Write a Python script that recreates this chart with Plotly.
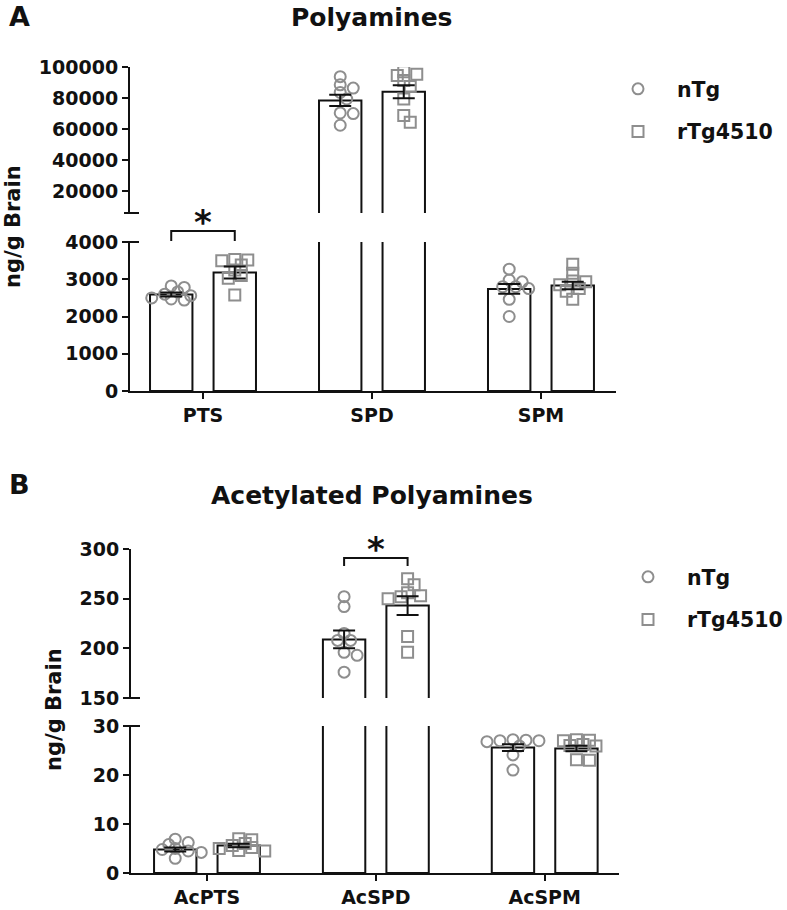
import plotly.graph_objects as go

W, H = 787, 910

groups = ["nTg", "rTg4510"]

# ---------------- Panel A data ----------------
a_categories = ["PTS", "SPD", "SPM"]
a_ntg_points = [
    [2820, 2780, 2660, 2600, 2560, 2500, 2470, 2440],
    [93800, 88500, 86400, 83600, 79400, 70400, 70000, 62500],
    [3270, 2980, 2930, 2800, 2800, 2750, 2460, 2000],
]
a_rtg_points = [
    [3530, 3520, 3500, 3380, 3250, 3100, 3030, 2580],
    [97000, 95300, 94500, 91300, 87400, 79400, 68700, 64400],
    [3400, 3160, 2950, 2930, 2850, 2750, 2680, 2460],
]
a_ntg_mean = [2590, 78500, 2740]
a_ntg_sem = [55, 3600, 130]
a_rtg_mean = [3180, 84000, 2830]
a_rtg_sem = [160, 4200, 100]
a_lower_ticks = [0, 1000, 2000, 3000, 4000]
a_upper_ticks = [20000, 40000, 60000, 80000, 100000]

# ---------------- Panel B data ----------------
b_categories = ["AcPTS", "AcSPD", "AcSPM"]
b_ntg_points = [
    [6.9, 6.2, 5.8, 5.0, 4.8, 4.5, 4.2, 3.0],
    [252, 242, 215, 208, 208, 196, 193, 176],
    [27.2, 27.1, 27.0, 27.0, 26.8, 25.9, 24.1, 21.0],
]
b_rtg_points = [
    [7.0, 6.8, 6.0, 5.6, 5.2, 5.0, 4.6, 4.5],
    [270, 264, 256, 253, 252, 250, 212, 196],
    [27.2, 27.1, 27.0, 26.2, 26.0, 25.9, 23.1, 23.0],
]
b_ntg_mean = [4.8, 209, 25.6]
b_ntg_sem = [0.4, 9, 0.7]
b_rtg_mean = [5.6, 243, 25.4]
b_rtg_sem = [0.35, 9.5, 0.55]
b_lower_ticks = [0, 10, 20, 30]
b_upper_ticks = [150, 200, 250, 300]

# ---------------- styling / layout helpers ----------------
FONT = "DejaVu Sans"
GRAY = "#8e8e8e"
BLACK = "#111111"
SYMBOLS = ["circle-open", "square-open"]
OFF = 0.188
BW = 0.251


def px_x(p):
    return p / W


def px_y(p):
    return 1 - p / H


panels = [
    dict(
        key="A", cats=a_categories,
        pts=[a_ntg_points, a_rtg_points], mean=[a_ntg_mean, a_rtg_mean], sem=[a_ntg_sem, a_rtg_sem],
        xa="x", ya_lo="y", ya_hi="y2",
        xdom=[px_x(130), px_x(616)], xrng=[-0.432, 2.444],
        lodom=[px_y(391), px_y(242)], lorng=[0, 4000], loticks=a_lower_ticks,
        hidom=[px_y(213), px_y(67)], hirng=[6000, 100000], hiticks=a_upper_ticks,
        title="Polyamines", title_y=17, letter_y=16,
        ytitle_x=13, ytitle_y=227, legend="legend", legend_x=599, legend_y=69,
        sig=0, sig_val=4295, sig_tick=4030, sig_axis="lo",
    ),
    dict(
        key="B", cats=b_categories,
        pts=[b_ntg_points, b_rtg_points], mean=[b_ntg_mean, b_rtg_mean], sem=[b_ntg_sem, b_rtg_sem],
        xa="x2", ya_lo="y3", ya_hi="y4",
        xdom=[px_x(131), px_x(619)], xrng=[-0.45, 2.44],
        lodom=[px_y(873), px_y(726)], lorng=[0, 30], loticks=b_lower_ticks,
        hidom=[px_y(698), px_y(549)], hirng=[150, 300], hiticks=b_upper_ticks,
        title="Acetylated Polyamines", title_y=496, letter_y=484,
        ytitle_x=54, ytitle_y=710, legend="legend2", legend_x=609, legend_y=557,
        sig=1, sig_val=291, sig_tick=283, sig_axis="hi",
    ),
]


def val_to_paper(v, dom, rng):
    return dom[0] + (v - rng[0]) / (rng[1] - rng[0]) * (dom[1] - dom[0])


def val_to_pixel(v, P):
    if v <= P["lorng"][1]:
        return H * (1 - val_to_paper(v, P["lodom"], P["lorng"]))
    return H * (1 - val_to_paper(v, P["hidom"], P["hirng"]))


def in_seg(v, P, seg):
    lo, hi = P["lorng"] if seg == "lo" else P["hirng"]
    return lo <= v <= hi


def swarm(values, P, step=6.5, min_d=7.5):
    order = sorted(range(len(values)), key=lambda i: -values[i])
    placed = []
    offs = [0.0] * len(values)
    cands = [0.0]
    for m in range(1, 12):
        cands += [m * step, -m * step]
    for i in order:
        yp = val_to_pixel(values[i], P)
        chosen = cands[-1]
        for c in cands:
            if all((c - pc) ** 2 + (yp - py) ** 2 >= min_d ** 2 for pc, py in placed):
                chosen = c
                break
        offs[i] = chosen
        placed.append((chosen, yp))
    px_per_unit = W * (P["xdom"][1] - P["xdom"][0]) / (P["xrng"][1] - P["xrng"][0])
    return [o / px_per_unit for o in offs]


fig = go.Figure()
annotations = []
shapes = []
layout_axes = {}

for P in panels:
    for seg, ya in (("lo", P["ya_lo"]), ("hi", P["ya_hi"])):
        for g in range(2):
            off = -OFF if g == 0 else OFF
            xs = [i + off for i in range(len(P["cats"]))]
            fig.add_trace(go.Bar(
                x=xs, y=P["mean"][g], width=BW, xaxis=P["xa"], yaxis=ya,
                marker=dict(color="white", line=dict(color=BLACK, width=2)),
                showlegend=False, hoverinfo="skip",
            ))
        for g in range(2):
            off = -OFF if g == 0 else OFF
            px_list, py_list = [], []
            for i, vals in enumerate(P["pts"][g]):
                jit = swarm(vals, P)
                for v, j in zip(vals, jit):
                    if in_seg(v, P, seg):
                        px_list.append(i + off + j)
                        py_list.append(v)
            fig.add_trace(go.Scatter(
                x=px_list, y=py_list, mode="markers", xaxis=P["xa"], yaxis=ya,
                name=groups[g], legend=P["legend"], legendgroup=P["key"] + groups[g],
                showlegend=(seg == "lo"),
                marker=dict(symbol=SYMBOLS[g], size=11, color=GRAY, line=dict(width=2, color=GRAY)),
            ))
        for g in range(2):
            off = -OFF if g == 0 else OFF
            ex, ey, es = [], [], []
            for i, (m, s) in enumerate(zip(P["mean"][g], P["sem"][g])):
                if in_seg(m, P, seg):
                    ex.append(i + off)
                    ey.append(m)
                    es.append(s)
            fig.add_trace(go.Scatter(
                x=ex, y=ey, mode="markers", xaxis=P["xa"], yaxis=ya,
                marker=dict(size=1, opacity=0),
                error_y=dict(type="data", array=es, color=BLACK, thickness=2, width=11),
                showlegend=False, hoverinfo="skip",
            ))

    xname = "xaxis" if P["xa"] == "x" else "xaxis" + P["xa"][1:]
    yl = "yaxis" if P["ya_lo"] == "y" else "yaxis" + P["ya_lo"][1:]
    yh = "yaxis" + P["ya_hi"][1:]
    tickfont = dict(family=FONT, size=19, color=BLACK, weight="bold")
    layout_axes[xname] = dict(
        domain=P["xdom"], range=P["xrng"], anchor=P["ya_lo"], automargin=False,
        tickvals=list(range(len(P["cats"]))), ticktext=P["cats"],
        showline=True, linewidth=2, linecolor=BLACK, ticks="outside", ticklen=6,
        tickwidth=2, tickcolor=BLACK, showgrid=False, zeroline=False, tickfont=tickfont,
    )
    common_y = dict(
        anchor=P["xa"], showline=True, linewidth=2, linecolor=BLACK, ticks="outside",
        ticklen=6, tickwidth=2, tickcolor=BLACK, showgrid=False, zeroline=False,
        tickfont=tickfont, tickmode="array", automargin=False,
    )
    layout_axes[yl] = dict(domain=P["lodom"], range=P["lorng"], tickvals=P["loticks"],
                           ticktext=[str(t) for t in P["loticks"]], **common_y)
    layout_axes[yh] = dict(domain=P["hidom"], range=P["hirng"], tickvals=P["hiticks"],
                           ticktext=[str(t) for t in P["hiticks"]], **common_y)

    # axis break marks
    for yv in (P["lodom"][1], P["hidom"][0]):
        shapes.append(dict(type="line", xref="paper", yref="paper",
                           x0=P["xdom"][0] - 6 / W, x1=P["xdom"][0] + 9 / W, y0=yv, y1=yv,
                           line=dict(color=BLACK, width=2)))

    # significance bracket
    dom = P["lodom"] if P["sig_axis"] == "lo" else P["hidom"]
    rng = P["lorng"] if P["sig_axis"] == "lo" else P["hirng"]
    yb = val_to_paper(P["sig_val"], dom, rng)
    yt = val_to_paper(P["sig_tick"], dom, rng)
    x0, x1 = P["sig"] - OFF, P["sig"] + OFF
    shapes.append(dict(type="path", xref=P["xa"], yref="paper",
                       path=f"M {x0},{yt} L {x0},{yb} L {x1},{yb} L {x1},{yt}",
                       line=dict(color=BLACK, width=2)))
    annotations.append(dict(xref=P["xa"], yref="paper", x=P["sig"], y=yb, yanchor="bottom",
                            text="*", showarrow=False, yshift=-13,
                            font=dict(family=FONT, size=34, color=BLACK, weight="bold")))

    # titles
    annotations.append(dict(xref="paper", yref="paper", x=px_x(372), y=px_y(P["title_y"]),
                            text=P["title"], showarrow=False, xanchor="center", yanchor="middle",
                            font=dict(family=FONT, size=25, color=BLACK, weight="bold")))
    annotations.append(dict(xref="paper", yref="paper", x=px_x(7), y=px_y(P["letter_y"]),
                            text=P["key"], showarrow=False, xanchor="left", yanchor="middle",
                            font=dict(family=FONT, size=27, color=BLACK, weight="bold")))
    annotations.append(dict(xref="paper", yref="paper", x=px_x(P["ytitle_x"]), y=px_y(P["ytitle_y"]),
                            text="ng/g Brain", showarrow=False, textangle=-90,
                            xanchor="center", yanchor="middle",
                            font=dict(family=FONT, size=21, color=BLACK, weight="bold")))

legend_common = dict(font=dict(family=FONT, size=20.5, color=BLACK, weight="bold"),
                     xanchor="left", yanchor="top", tracegroupgap=13, itemwidth=68,
                     bgcolor="rgba(0,0,0,0)")
fig.update_layout(
    width=W, height=H, margin=dict(l=0, r=0, t=0, b=0, autoexpand=False),
    template="none",
    plot_bgcolor="white", paper_bgcolor="white",
    barmode="overlay", showlegend=True,
    legend=dict(x=px_x(panels[0]["legend_x"]), y=px_y(panels[0]["legend_y"]), **legend_common),
    legend2=dict(x=px_x(panels[1]["legend_x"]), y=px_y(panels[1]["legend_y"]), **legend_common),
    annotations=annotations, shapes=shapes,
    **layout_axes,
)

fig.write_html("out.html", config={"displayModeBar": False},
               post_script="document.body.style.margin='0px';document.body.style.overflow='hidden';")
